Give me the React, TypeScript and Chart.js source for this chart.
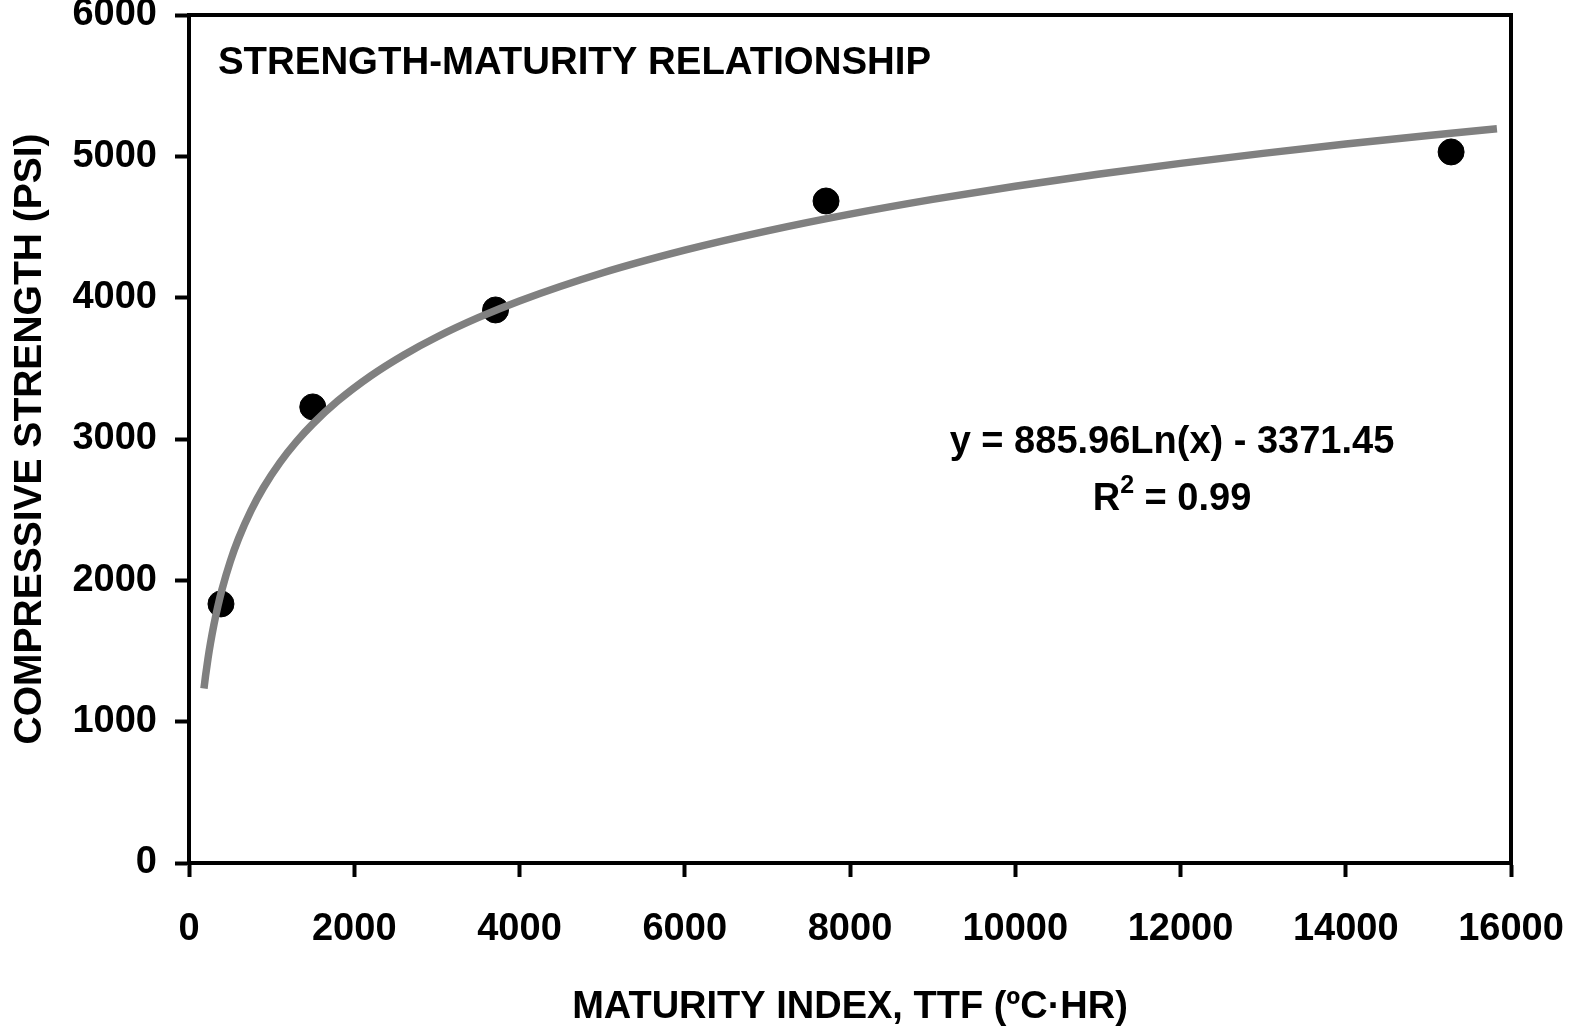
import React, { useEffect, useRef } from 'react';
import { Chart, registerables } from 'chart.js';

Chart.register(...registerables);

// ---- data ----
const maturityTTF = [387, 1498, 3710, 7710, 15275];
const strengthPSI = [1833, 3227, 3913, 4684, 5031];

// printed trendline: y = 885.96 Ln(x) - 3371.45
const trendSlope = 885.96;
const trendIntercept = -3371.45;
const trendX = [181, 200, 230, 260, 300, 350, 400, 500, 600, 750, 900, 1100, 1300, 1500, 1800, 2200, 2600, 3000, 3500, 4000, 5000, 6000, 7000, 8000, 9000, 10000, 11000, 12000, 13000, 14000, 15000, 15830];

const xTicks = [0, 2000, 4000, 6000, 8000, 10000, 12000, 14000, 16000];
const yTicks = [0, 1000, 2000, 3000, 4000, 5000, 6000];

const chartTitle = 'STRENGTH-MATURITY RELATIONSHIP';
const xAxisTitle = 'MATURITY INDEX, TTF (ºC·HR)';
const yAxisTitle = 'COMPRESSIVE STRENGTH (PSI)';
const equationText = 'y = 885.96Ln(x) - 3371.45';
const r2Base = 'R';
const r2Sup = '2';
const r2Rest = ' = 0.99';

const FONT = '"Liberation Sans", Arial, Helvetica, sans-serif';

const annotationPlugin = {
  id: 'annotations',
  afterDraw(chart: any) {
    const { ctx, chartArea } = chart;
    const { left, top, right, bottom } = chartArea;
    ctx.save();
    // frame
    ctx.strokeStyle = '#000';
    ctx.lineWidth = 4;
    ctx.lineCap = 'square';
    ctx.strokeRect(left, top, right - left, bottom - top);

    ctx.fillStyle = '#000';
    ctx.textBaseline = 'alphabetic';
    // chart title inside plot
    ctx.font = `bold 38.4px ${FONT}`;
    ctx.textAlign = 'left';
    ctx.fillText(chartTitle, left + 29, top + 59);

    // equation
    const cx = left + 983;
    ctx.font = `bold 38px ${FONT}`;
    ctx.textAlign = 'center';
    ctx.fillText(equationText, cx, top + 438);

    // R^2 line
    ctx.textAlign = 'left';
    ctx.font = `bold 38px ${FONT}`;
    const wR = ctx.measureText(r2Base).width;
    const wRest = ctx.measureText(r2Rest).width;
    ctx.font = `bold 25px ${FONT}`;
    const wSup = ctx.measureText(r2Sup).width;
    const total = wR + wSup + wRest;
    let x = cx - total / 2;
    const base = top + 495;
    ctx.font = `bold 38px ${FONT}`;
    ctx.fillText(r2Base, x, base);
    x += wR;
    ctx.font = `bold 25px ${FONT}`;
    ctx.fillText(r2Sup, x, base - 17);
    x += wSup;
    ctx.font = `bold 38px ${FONT}`;
    ctx.fillText(r2Rest, x, base);
    ctx.restore();
  },
};

export default function App() {
  const canvasRef = useRef<HTMLCanvasElement | null>(null);

  useEffect(() => {
    const canvas = canvasRef.current;
    if (!canvas) return;
    const trendData = trendX.map((x) => ({ x, y: trendSlope * Math.log(x) + trendIntercept }));
    const pointData = maturityTTF.map((x, i) => ({ x, y: strengthPSI[i] }));

    const chart = new Chart(canvas, {
      type: 'scatter',
      data: {
        datasets: [
          {
            type: 'line',
            label: 'Trend',
            data: trendData,
            borderColor: '#808080',
            borderWidth: 7.5,
            pointRadius: 0,
            fill: false,
            showLine: true,
            cubicInterpolationMode: 'monotone',
            order: 0,
          } as any,
          {
            label: 'Strength',
            data: pointData,
            backgroundColor: '#000',
            borderColor: '#000',
            pointRadius: 13,
            pointHoverRadius: 13,
            order: 1,
          },
        ],
      },
      options: {
        responsive: false,
        animation: false,
        devicePixelRatio: 1,
        layout: { padding: { left: 0, top: 15, right: 66, bottom: 0 } },
        plugins: {
          legend: { display: false },
          tooltip: { enabled: false },
          title: { display: false },
        },
        scales: {
          x: {
            type: 'linear',
            position: 'bottom',
            min: 0,
            max: 16000,
            afterBuildTicks: (axis: any) => {
              axis.ticks = xTicks.map((v) => ({ value: v }));
            },
            afterFit: (scale: any) => {
              scale.height = 167;
              scale.paddingLeft = 0;
              scale.paddingRight = 0;
            },
            ticks: {
              color: '#000',
              font: { family: FONT, size: 38, weight: 'bold' },
              padding: 30,
              maxRotation: 0,
              autoSkip: false,
              callback: (v: any) => String(v),
            },
            grid: {
              display: true,
              drawOnChartArea: false,
              drawTicks: true,
              tickLength: 14,
              tickWidth: 4,
              tickColor: '#000',
            },
            border: { display: true, color: '#000', width: 4 },
            title: {
              display: true,
              text: xAxisTitle,
              color: '#000',
              font: { family: FONT, size: 38, weight: 'bold' },
              padding: { top: 0, bottom: 0 },
            },
          },
          y: {
            type: 'linear',
            position: 'left',
            min: 0,
            max: 6000,
            afterBuildTicks: (axis: any) => {
              axis.ticks = yTicks.map((v) => ({ value: v }));
            },
            afterFit: (scale: any) => {
              scale.width = 189;
              scale.paddingTop = 0;
              scale.paddingBottom = 0;
            },
            ticks: {
              color: '#000',
              font: { family: FONT, size: 38, weight: 'bold' },
              padding: 18,
              autoSkip: false,
              callback: (v: any) => String(v),
            },
            grid: {
              display: true,
              drawOnChartArea: false,
              drawTicks: true,
              tickLength: 14,
              tickWidth: 4,
              tickColor: '#000',
            },
            border: { display: true, color: '#000', width: 4 },
            title: {
              display: true,
              text: yAxisTitle,
              color: '#000',
              font: { family: FONT, size: 39, weight: 'bold' },
              padding: { top: 7, bottom: 0 },
            },
          },
        },
      },
      plugins: [annotationPlugin],
    });

    return () => {
      chart.destroy();
    };
  }, []);

  return (
    <div style={{ position: 'absolute', left: 0, top: 0, width: 1577, height: 1030, background: '#fff' }}>
      <canvas ref={canvasRef} width={1577} height={1030} style={{ display: 'block' }} />
    </div>
  );
}
